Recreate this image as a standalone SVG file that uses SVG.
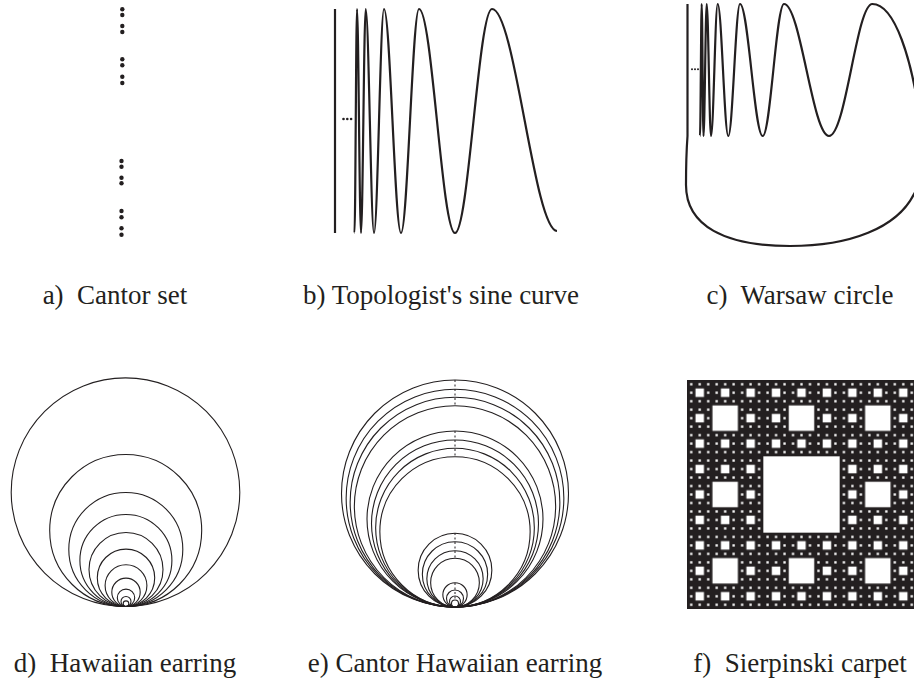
<svg xmlns="http://www.w3.org/2000/svg" width="914" height="683" viewBox="0 0 914 683">
<style>
.lbl{font-family:'Liberation Serif','DejaVu Serif',serif;font-size:27px;fill:#231f20;text-anchor:middle}
.curve{fill:none;stroke:#231f20;stroke-width:2.2;stroke-linejoin:round}
.ring{fill:none;stroke:#231f20;stroke-width:1.1}
.dot{fill:#231f20}
.dash{stroke:#231f20;stroke-width:1;stroke-dasharray:2 2.5}
</style>
<defs>
<pattern id="p2" patternUnits="userSpaceOnUse" x="687" y="380" width="76.3333" height="76.3333"><rect x="25.4444" y="25.4444" width="25.4444" height="25.4444" fill="#fff"/></pattern>
<pattern id="p3" patternUnits="userSpaceOnUse" x="687" y="380" width="25.4444" height="25.4444"><rect x="8.4815" y="8.4815" width="8.4815" height="8.4815" fill="#fff"/></pattern>
<pattern id="p4" patternUnits="userSpaceOnUse" x="687" y="380" width="8.4815" height="8.4815"><rect x="3.1" y="3.1" width="2.3" height="2.3" fill="#fff"/></pattern>
</defs>
<rect width="914" height="683" fill="#fff"/>

<g id="cantor-set">
<circle class="dot" cx="122.3" cy="9.3" r="2.2"/><circle class="dot" cx="122.3" cy="15" r="2.2"/>
<circle class="dot" cx="122.3" cy="26" r="2.2"/><circle class="dot" cx="122.3" cy="32" r="2.2"/>
<circle class="dot" cx="122.3" cy="59.3" r="2.2"/><circle class="dot" cx="122.3" cy="65.3" r="2.2"/>
<circle class="dot" cx="122.3" cy="76.7" r="2.2"/><circle class="dot" cx="122.3" cy="83" r="2.2"/>
<circle class="dot" cx="121.5" cy="161" r="2.2"/><circle class="dot" cx="121.5" cy="166.7" r="2.2"/>
<circle class="dot" cx="121.5" cy="177.7" r="2.2"/><circle class="dot" cx="121.5" cy="183.3" r="2.2"/>
<circle class="dot" cx="121.5" cy="211" r="2.2"/><circle class="dot" cx="121.5" cy="217.3" r="2.2"/>
<circle class="dot" cx="121.5" cy="228.3" r="2.2"/><circle class="dot" cx="121.5" cy="234.7" r="2.2"/>
<text class="lbl" font-family="Liberation Serif, serif" x="115" y="304" xml:space="preserve">a)  Cantor set</text>
</g>

<g id="topologist-sine">
<line class="curve" x1="335" y1="9" x2="335" y2="233"/>
<circle class="dot" cx="343.5" cy="119" r="1.3"/><circle class="dot" cx="347.3" cy="119" r="1.3"/><circle class="dot" cx="351.1" cy="119" r="1.3"/>
<path class="curve" d="M354.5,233 C355.41,233 356.09,9 357,9 C358.46,9 359.54,233 361,233 C362.71,233 363.99,9 365.7,9 C368.72,9 370.98,233 374,233 C377.64,233 380.36,9 384,9 C390.19,9 394.81,233 401,233 C407.55,233 412.45,9 419,9 C432.1,9 441.9,233 455,233 C468.47,233 478.53,9 492,9 C515,9 534,230 557,231"/>
<text class="lbl" font-family="Liberation Serif, serif" x="441" y="304">b) Topologist's sine curve</text>
</g>

<g id="warsaw-circle">
<circle class="dot" cx="692" cy="69.3" r="1"/><circle class="dot" cx="695" cy="69.3" r="1"/><circle class="dot" cx="698" cy="69.3" r="1"/>
<path class="curve" d="M700,136 C700.62,136 701.08,4 701.7,4 C702.36,4 702.84,136 703.5,136 C704.66,136 705.54,4 706.7,4 C708.27,4 709.43,136 711,136 C713.44,136 715.26,4 717.7,4 C721.56,4 724.44,136 728.3,136 C732.56,136 735.74,4 740,4 C748.26,4 754.44,136 762.7,136 C770.45,136 776.25,4 784,4 C800.4,4 812.6,136 829,136 C845.76,136 856.54,4 872.3,4 C895,4 912,60 920,120 C925,160 922,180 914,194 C897,228 850,246 790,246 C725,246 686,226 686,185 C686,165 686.5,150 687.5,136 L687.5,4"/>
<text class="lbl" font-family="Liberation Serif, serif" x="800" y="304" xml:space="preserve">c)  Warsaw circle</text>
</g>

<g id="hawaiian-earring">
<circle class="ring" cx="125.5" cy="492.2" r="114.3"/>
<circle class="ring" cx="125.7" cy="530.5" r="76"/>
<circle class="ring" cx="125.8" cy="549.5" r="57"/>
<circle class="ring" cx="125.9" cy="560.5" r="46"/>
<circle class="ring" cx="126" cy="569.5" r="37"/>
<circle class="ring" cx="126" cy="577.8" r="28.7"/>
<circle class="ring" cx="126" cy="585.6" r="20.9"/>
<circle class="ring" cx="126" cy="592.3" r="14.2"/>
<circle class="ring" cx="126" cy="597.8" r="8.7"/>
<circle class="ring" cx="126" cy="601.5" r="5"/>
<circle class="ring" cx="126" cy="603.7" r="2.8"/>
<text class="lbl" font-family="Liberation Serif, serif" x="125" y="672" xml:space="preserve">d)  Hawaiian earring</text>
</g>

<g id="cantor-hawaiian-earring">
<circle class="ring" cx="455" cy="493.5" r="113.5"/>
<circle class="ring" cx="455" cy="498.15" r="108.85"/>
<circle class="ring" cx="455" cy="502.15" r="104.85"/>
<circle class="ring" cx="455" cy="506.35" r="100.65"/>
<circle class="ring" cx="455" cy="519" r="88"/>
<circle class="ring" cx="455" cy="523.5" r="83.5"/>
<circle class="ring" cx="455" cy="527.65" r="79.35"/>
<circle class="ring" cx="455" cy="531.85" r="75.15"/>
<circle class="ring" cx="455" cy="570.15" r="36.85"/>
<circle class="ring" cx="455" cy="574.35" r="32.65"/>
<circle class="ring" cx="455" cy="578.85" r="28.15"/>
<circle class="ring" cx="455" cy="582.65" r="24.35"/>
<circle class="ring" cx="455" cy="594.85" r="12.15"/>
<circle class="ring" cx="455" cy="598.5" r="8.5"/>
<circle class="ring" cx="455" cy="601.5" r="5.5"/>
<circle class="ring" cx="455" cy="603.5" r="3.5"/>
<line class="dash" x1="455" y1="380" x2="455" y2="406"/>
<line class="dash" x1="455" y1="431" x2="455" y2="457"/>
<line class="dash" x1="455" y1="533" x2="455" y2="559"/>
<line class="dash" x1="455" y1="583" x2="455" y2="600"/>
<text class="lbl" font-family="Liberation Serif, serif" x="455" y="672">e) Cantor Hawaiian earring</text>
</g>

<g id="sierpinski-carpet">
<rect x="687" y="380" width="229" height="229" fill="#231f20"/>
<rect x="687" y="380" width="229" height="229" fill="url(#p4)"/>
<rect x="687" y="380" width="229" height="229" fill="url(#p3)"/>
<rect x="687" y="380" width="229" height="229" fill="url(#p2)"/>
<rect x="763.333" y="456.333" width="76.333" height="76.333" fill="#fff"/>
<text class="lbl" font-family="Liberation Serif, serif" x="800" y="672" xml:space="preserve">f)  Sierpinski carpet</text>
</g>
</svg>
